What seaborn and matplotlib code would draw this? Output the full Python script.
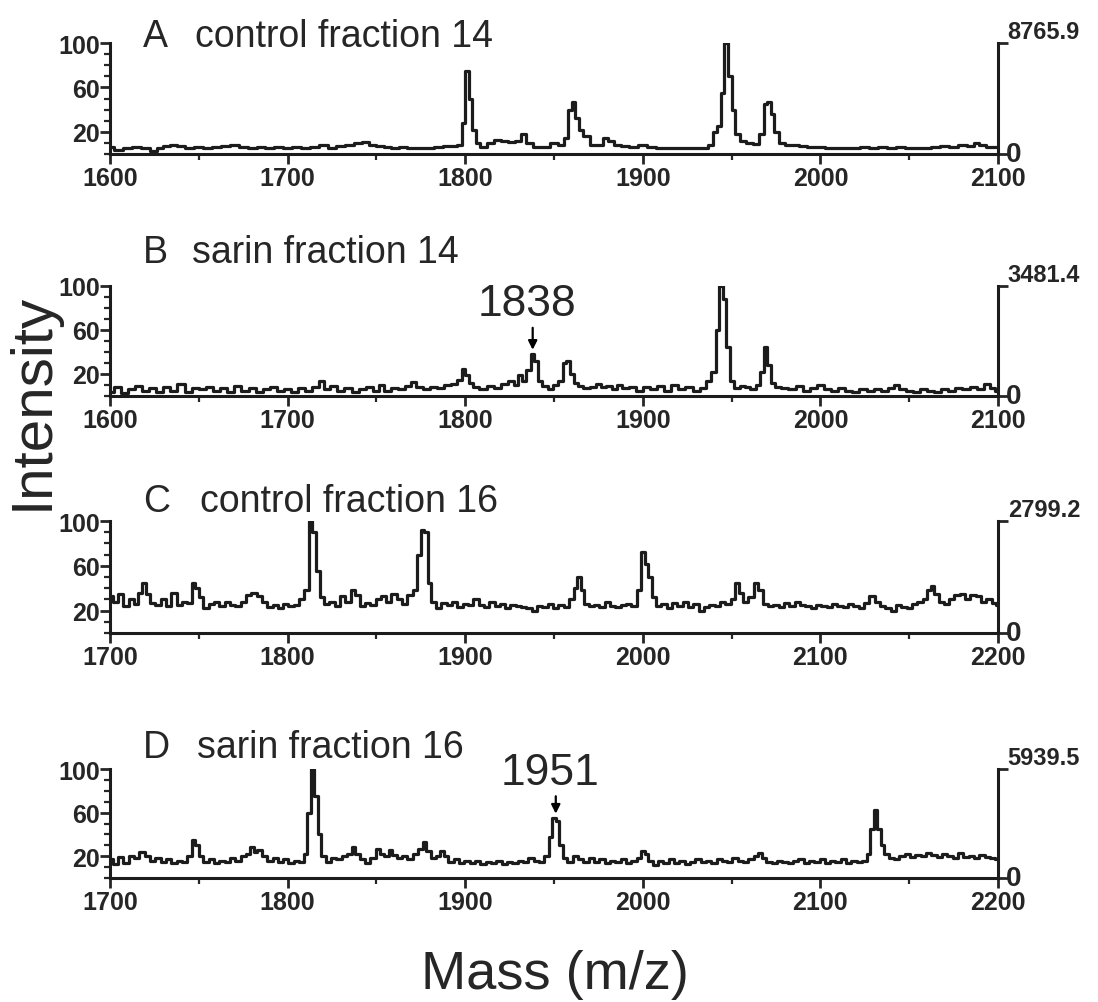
import numpy as np
import pandas as pd
import matplotlib
matplotlib.use('Agg')
import matplotlib.pyplot as plt
import seaborn as sns
from matplotlib.ticker import MultipleLocator

# Espectros (m/z, intensidade relativa %)
mass_a = [1600, 1605, 1610, 1615, 1620, 1625, 1628, 1632, 1636, 1640, 1645, 1650, 1655, 1660, 1665, 1670, 1675, 1680,
          1685, 1690, 1695, 1700, 1705, 1710, 1715, 1720, 1725, 1730, 1735, 1740, 1744, 1748, 1752, 1756, 1760, 1765,
          1770, 1775, 1780, 1785, 1790, 1794, 1797, 1799, 1801, 1803, 1805, 1807, 1810, 1814, 1818, 1822, 1826, 1830,
          1833, 1836, 1840, 1845, 1850, 1854, 1857, 1859, 1861, 1863, 1865, 1868, 1872, 1876, 1879, 1882, 1886, 1890,
          1895, 1900, 1905, 1910, 1915, 1920, 1925, 1930, 1935, 1938, 1941, 1943, 1945, 1947, 1949, 1951, 1953, 1956,
          1960, 1964, 1967, 1969, 1971, 1973, 1975, 1978, 1982, 1986, 1990, 1995, 2000, 2005, 2010, 2015, 2020, 2025,
          2030, 2035, 2040, 2045, 2050, 2055, 2060, 2065, 2070, 2075, 2080, 2085, 2088, 2091, 2095, 2100]
int_a = [6, 4, 5, 6, 5, 3, 5, 7, 8, 7, 5, 6, 5, 6, 7, 8, 6, 5,
         6, 5, 6, 5, 6, 5, 6, 8, 5, 7, 8, 10, 11, 8, 7, 6, 5, 6,
         5, 5, 5, 6, 7, 7, 8, 28, 75, 50, 22, 10, 6, 10, 13, 12, 11, 12,
         18, 10, 6, 6, 10, 8, 14, 40, 47, 32, 22, 16, 8, 8, 14, 12, 8, 7,
         6, 8, 6, 5, 5, 5, 5, 5, 5, 8, 20, 25, 55, 100, 70, 40, 18, 12,
         10, 9, 18, 45, 47, 36, 20, 10, 8, 8, 7, 6, 6, 5, 5, 5, 5, 6,
         5, 6, 5, 6, 5, 5, 5, 6, 7, 6, 8, 7, 10, 8, 6, 6]

mass_b = [1600, 1604, 1608, 1612, 1616, 1620, 1624, 1628, 1632, 1636, 1640, 1644, 1648, 1652, 1656, 1660, 1664, 1668,
          1672, 1676, 1680, 1684, 1688, 1692, 1696, 1700, 1704, 1708, 1712, 1716, 1719, 1722, 1726, 1730, 1734, 1738,
          1742, 1746, 1750, 1753, 1756, 1760, 1764, 1768, 1771, 1774, 1778, 1782, 1786, 1790, 1794, 1797, 1799, 1801,
          1803, 1806, 1810, 1814, 1818, 1822, 1826, 1829, 1831, 1833, 1836, 1838, 1840, 1842, 1845, 1848, 1851, 1854,
          1856, 1858, 1860, 1862, 1865, 1868, 1872, 1875, 1878, 1881, 1884, 1887, 1890, 1894, 1898, 1902, 1906, 1910,
          1914, 1918, 1922, 1926, 1930, 1934, 1937, 1940, 1942, 1944, 1946, 1948, 1950, 1953, 1956, 1959, 1962, 1965,
          1967, 1969, 1971, 1973, 1976, 1980, 1984, 1988, 1992, 1996, 2000, 2004, 2008, 2012, 2016, 2020, 2024, 2028,
          2032, 2036, 2040, 2043, 2046, 2050, 2054, 2058, 2062, 2066, 2070, 2074, 2078, 2082, 2086, 2090, 2094, 2097,
          2100]
int_b = [4, 8, 3, 6, 9, 5, 7, 4, 8, 5, 11, 4, 7, 6, 8, 5, 7, 4,
         9, 5, 7, 4, 6, 8, 5, 6, 4, 7, 5, 8, 14, 6, 9, 5, 7, 4,
         6, 8, 5, 10, 5, 7, 6, 9, 13, 8, 6, 8, 7, 10, 11, 15, 25, 19,
         12, 8, 6, 9, 7, 11, 14, 10, 19, 14, 24, 38, 32, 14, 9, 6, 10, 14,
         30, 32, 20, 12, 9, 7, 8, 11, 8, 9, 6, 10, 7, 8, 5, 8, 6, 9,
         5, 10, 6, 8, 5, 7, 14, 22, 60, 100, 88, 45, 14, 7, 9, 8, 6, 10,
         22, 45, 28, 12, 8, 7, 6, 9, 5, 7, 10, 6, 5, 7, 5, 4, 6, 5,
         6, 5, 7, 10, 6, 5, 4, 6, 5, 4, 6, 5, 7, 6, 8, 6, 11, 7,
         5]

mass_c = [1700, 1703, 1706, 1709, 1712, 1715, 1717, 1719, 1721, 1724, 1727, 1730, 1733, 1736, 1739, 1742, 1745, 1747,
          1749, 1751, 1754, 1757, 1760, 1763, 1766, 1769, 1772, 1775, 1778, 1781, 1784, 1787, 1790, 1793, 1796, 1799,
          1802, 1805, 1808, 1811, 1813, 1815, 1817, 1819, 1822, 1825, 1828, 1831, 1834, 1837, 1839, 1842, 1845, 1848,
          1851, 1854, 1857, 1860, 1863, 1866, 1869, 1872, 1874, 1876, 1878, 1880, 1882, 1885, 1888, 1891, 1894, 1897,
          1900, 1903, 1906, 1909, 1912, 1915, 1918, 1921, 1924, 1927, 1930, 1933, 1936, 1939, 1942, 1945, 1948, 1951,
          1954, 1957, 1960, 1962, 1964, 1966, 1968, 1971, 1974, 1977, 1980, 1983, 1986, 1989, 1992, 1995, 1998, 2000,
          2002, 2004, 2006, 2009, 2012, 2015, 2018, 2021, 2024, 2027, 2030, 2033, 2036, 2039, 2042, 2045, 2048, 2051,
          2053, 2055, 2058, 2061, 2064, 2066, 2069, 2072, 2075, 2078, 2081, 2084, 2087, 2090, 2093, 2096, 2099, 2102,
          2105, 2108, 2111, 2114, 2117, 2120, 2123, 2126, 2129, 2132, 2135, 2138, 2141, 2144, 2147, 2150, 2153, 2156,
          2159, 2161, 2163, 2165, 2168, 2171, 2174, 2177, 2180, 2183, 2186, 2189, 2192, 2195, 2198, 2200]
int_c = [33, 28, 35, 24, 30, 26, 36, 45, 35, 27, 25, 30, 24, 36, 25, 28, 27, 45,
         40, 32, 22, 26, 28, 24, 28, 25, 24, 28, 34, 36, 33, 28, 23, 25, 22, 26,
         24, 25, 30, 38, 100, 90, 55, 32, 26, 28, 24, 33, 28, 38, 34, 24, 27, 25,
         30, 33, 28, 35, 30, 26, 34, 38, 70, 92, 90, 45, 28, 22, 27, 25, 28, 23,
         26, 25, 30, 25, 23, 28, 24, 26, 22, 25, 24, 23, 22, 20, 24, 23, 26, 22,
         25, 23, 30, 40, 50, 38, 26, 24, 25, 23, 28, 24, 23, 25, 26, 24, 38, 72,
         62, 50, 32, 24, 26, 22, 27, 24, 28, 23, 26, 20, 23, 25, 24, 28, 26, 30,
         45, 36, 28, 32, 45, 38, 26, 24, 25, 23, 27, 24, 28, 25, 24, 22, 25, 24,
         23, 26, 24, 23, 26, 24, 22, 27, 33, 28, 24, 22, 20, 25, 23, 22, 26, 28,
         30, 38, 42, 35, 28, 26, 30, 34, 35, 30, 34, 33, 28, 30, 27, 25]

mass_d = [1700, 1703, 1706, 1709, 1712, 1715, 1718, 1721, 1724, 1727, 1730, 1733, 1736, 1739, 1742, 1745, 1747, 1749,
          1751, 1754, 1757, 1760, 1763, 1766, 1769, 1772, 1775, 1778, 1780, 1782, 1784, 1787, 1790, 1793, 1796, 1799,
          1802, 1805, 1808, 1810, 1812, 1814, 1816, 1818, 1820, 1823, 1826, 1829, 1832, 1835, 1837, 1839, 1842, 1845,
          1848, 1851, 1853, 1856, 1858, 1860, 1863, 1866, 1869, 1872, 1875, 1877, 1879, 1882, 1885, 1887, 1889, 1892,
          1895, 1898, 1901, 1904, 1907, 1910, 1913, 1916, 1919, 1922, 1925, 1928, 1931, 1934, 1937, 1940, 1943, 1946,
          1948, 1950, 1952, 1954, 1956, 1959, 1962, 1965, 1968, 1971, 1974, 1977, 1980, 1983, 1986, 1989, 1992, 1995,
          1998, 2000, 2002, 2004, 2007, 2010, 2013, 2016, 2019, 2022, 2025, 2028, 2031, 2034, 2037, 2040, 2043, 2046,
          2049, 2052, 2055, 2058, 2061, 2064, 2066, 2068, 2071, 2074, 2077, 2080, 2083, 2086, 2089, 2092, 2095, 2098,
          2101, 2104, 2107, 2110, 2113, 2116, 2119, 2122, 2125, 2127, 2129, 2131, 2133, 2135, 2137, 2140, 2143, 2146,
          2149, 2152, 2155, 2158, 2161, 2164, 2167, 2170, 2173, 2176, 2179, 2182, 2185, 2188, 2191, 2194, 2197, 2200]
int_d = [17, 13, 19, 14, 20, 18, 24, 20, 16, 18, 15, 17, 14, 16, 15, 20, 35, 30,
         20, 15, 17, 14, 16, 15, 18, 16, 20, 22, 28, 24, 26, 20, 16, 18, 15, 17,
         14, 16, 15, 22, 60, 100, 75, 40, 20, 15, 18, 17, 20, 22, 28, 22, 17, 14,
         18, 27, 22, 20, 26, 21, 18, 20, 17, 22, 27, 33, 25, 18, 20, 25, 20, 15,
         17, 14, 16, 14, 16, 13, 15, 14, 16, 13, 15, 14, 16, 15, 18, 16, 15, 20,
         38, 55, 52, 30, 18, 15, 20, 17, 15, 18, 15, 17, 14, 16, 15, 17, 14, 16,
         18, 25, 22, 16, 12, 16, 14, 17, 14, 16, 13, 15, 17, 15, 16, 14, 17, 16,
         15, 18, 16, 15, 17, 20, 23, 18, 15, 14, 16, 15, 14, 16, 17, 14, 16, 15,
         17, 14, 16, 15, 17, 14, 16, 15, 16, 22, 45, 62, 45, 30, 22, 18, 17, 20,
         22, 19, 21, 20, 23, 21, 19, 22, 20, 18, 23, 19, 20, 18, 21, 19, 18, 17]

panel_letters = ['A', 'B', 'C', 'D']
panel_titles = ['control fraction 14', 'sarin fraction 14', 'control fraction 16', 'sarin fraction 16']
max_counts = ['8765.9', '3481.4', '2799.2', '5939.5']
x_ranges = [(1600, 2100), (1600, 2100), (1700, 2200), (1700, 2200)]
marked_peaks = [None, 1838, None, 1951]

spectra = [(mass_a, int_a), (mass_b, int_b), (mass_c, int_c), (mass_d, int_d)]

sns.set_style('ticks')
plt.rcParams['font.family'] = ['Liberation Sans', 'DejaVu Sans']

W, H = 1098, 1003
fig = plt.figure(figsize=(W / 100, H / 100), dpi=100)

# posicoes em pixels: topo (y=100) e base (y=0) de cada painel, linha de base do titulo
tops = [44, 287, 522, 770]
bottoms = [155, 397, 634, 879]
title_base = [47, 263, 512, 758]
title_x = [195, 192, 200, 197]
# seta das marcacoes: ponta, cauda e base do texto (em unidades do eixo y)
arrow_pos = [None, (42, 62, 65), None, (59, 75, 78)]
left_px, right_px = 110, 998
line_color = '#1c1c1c'

for i in range(4):
    m, v = spectra[i]
    assert len(m) == len(v)
    df = pd.DataFrame({'mz': m, 'intensity': v})
    ax = fig.add_axes([left_px / W, 1 - bottoms[i] / H, (right_px - left_px) / W, (bottoms[i] - tops[i]) / H])
    sns.lineplot(data=df, x='mz', y='intensity', ax=ax, color=line_color, lw=2.3,
                 drawstyle='steps-mid', estimator=None, sort=False)
    ax.set_xlim(*x_ranges[i])
    ax.set_ylim(0, 100)
    ax.set_xlabel('')
    ax.set_ylabel('')
    ax.set_xticks(range(x_ranges[i][0], x_ranges[i][1] + 1, 100))
    ax.xaxis.set_minor_locator(MultipleLocator(50))
    ax.set_yticks([20, 60, 100])
    ax.yaxis.set_minor_locator(MultipleLocator(10))
    ax.tick_params(axis='both', which='major', length=7, width=2, labelsize=18, pad=2)
    ax.tick_params(axis='both', which='minor', length=4, width=1.6)
    ax.tick_params(axis='y', pad=0)
    for lbl in ax.get_xticklabels() + ax.get_yticklabels():
        lbl.set_fontweight('bold')
    for s in ['left', 'bottom']:
        ax.spines[s].set_linewidth(2.2)
        ax.spines[s].set_color(line_color)
    ax.spines['top'].set_visible(False)
    ax.spines['right'].set_visible(False)

    # eixo da direita: contagem absoluta do pico maximo
    ax2 = ax.twinx()
    ax2.set_ylim(0, 100)
    ax2.set_yticks([0, 100])
    ax2.set_yticklabels(['', max_counts[i]])
    ax2.tick_params(axis='y', length=7, width=2, labelsize=17, pad=0)
    for s in ['left', 'bottom', 'top']:
        ax2.spines[s].set_visible(False)
    ax2.spines['right'].set_linewidth(2.2)
    ax2.spines['right'].set_color(line_color)
    labels = ax2.get_yticklabels()
    labels[1].set_fontweight('bold')
    labels[1].set_va('bottom')
    ax2.annotate('0', xy=(1, 0), xycoords='axes fraction', xytext=(5.5, -9.5), textcoords='offset points',
                 fontsize=20, fontweight='bold', ha='left', va='bottom')

    ty = 1 - title_base[i] / H
    fig.text(143 / W, ty, panel_letters[i], fontsize=27, ha='left', va='baseline')
    fig.text(title_x[i] / W, ty, panel_titles[i], fontsize=27, ha='left', va='baseline')

    if marked_peaks[i] is not None:
        pk = marked_peaks[i]
        tip, tail, txt = arrow_pos[i]
        ax.annotate('', xy=(pk, tip), xytext=(pk, tail),
                    arrowprops=dict(arrowstyle='-|>', color='black', lw=1.6, mutation_scale=13,
                                    shrinkA=0, shrinkB=0))
        ax.text(pk - 3, txt, str(pk), fontsize=32, ha='center', va='bottom')

fig.text(0.030, 0.60, 'Intensity', rotation=90, fontsize=42, ha='center', va='center')
fig.text(0.505, 0.028, 'Mass (m/z)', fontsize=39, ha='center', va='center')

fig.savefig('out.png', dpi=100, facecolor='white')
